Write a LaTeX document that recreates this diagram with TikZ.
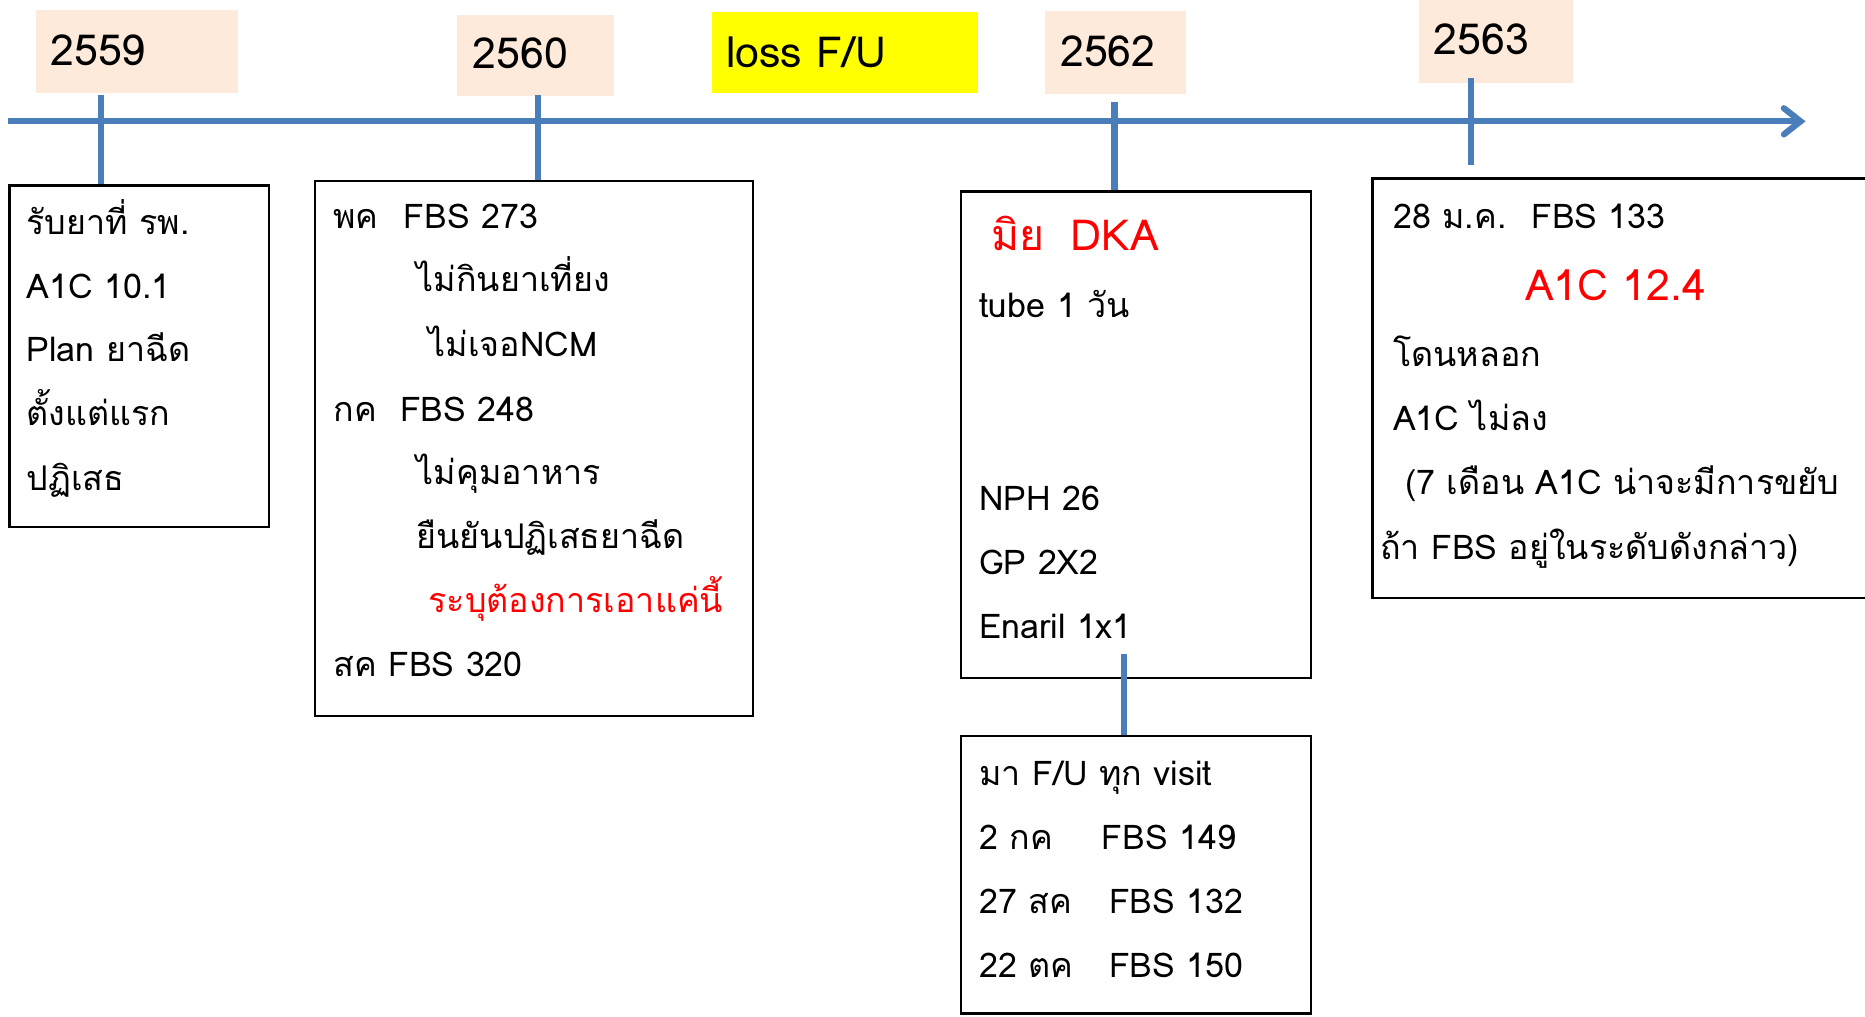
\documentclass[tikz,border=0pt]{standalone}
\usepackage{fontspec}
\setmainfont[Script=Thai]{Loma}
\usetikzlibrary{arrows.meta}
\definecolor{tlblue}{RGB}{74,126,187}
\definecolor{peach}{RGB}{253,234,218}
\definecolor{hiyellow}{RGB}{255,255,0}
\definecolor{alertred}{RGB}{255,0,0}
\begin{document}
\begin{tikzpicture}[x=0.5pt,y=-0.5pt,
  tl/.style={draw=tlblue,line width=2.6pt},
  yearbox/.style={fill=peach,draw=none,inner sep=0pt,anchor=north west},
  textbox/.style={draw=black,line width=1pt,inner sep=0pt,anchor=north west},
  txt/.style={anchor=base west,inner sep=0pt,font=\fontsize{14.3}{17}\selectfont},
  big/.style={anchor=base west,inner sep=0pt,font=\fontsize{18}{21}\selectfont},
  redtxt/.style={text=alertred}
]
\useasboundingbox (0,0) rectangle (1568,855);
\fill[white] (0,0) rectangle (1568,855);

% year labels
\node[yearbox,minimum width=85pt,minimum height=35pt] (y1) at (30,8) {};
\node[yearbox,minimum width=66pt,minimum height=34pt] (y2) at (384,12) {};
\node[yearbox,fill=hiyellow,minimum width=112pt,minimum height=34pt] (y3) at (598,10) {};
\node[yearbox,minimum width=59.5pt,minimum height=35pt] (y4) at (878,9) {};
\node[yearbox,minimum width=64.5pt,minimum height=34.5pt] (y5) at (1193,0) {};
\node[big] (y1t) at (42,55) {2559};
\node[big] (y2t) at (397,58) {2560};
\node[big] (y3t) at (610,57) {loss F/U};
\node[big] (y4t) at (891,56) {2562};
\node[big] (y5t) at (1205,46) {2563};

% boxes
\node[textbox,minimum width=109pt,minimum height=143.5pt] (b1) at (7,155) {};
\node[textbox,minimum width=184pt,minimum height=225pt] (b2) at (264,151) {};
\node[textbox,minimum width=147pt,minimum height=204.5pt] (b3) at (807,160) {};
\node[textbox,minimum width=223.5pt,minimum height=176.5pt] (b4) at (1153,149) {};
\node[textbox,minimum width=147pt,minimum height=116.5pt] (b5) at (807,618) {};

% timeline
\coordinate (ls) at (7,102);
\coordinate (le) at (1518,102);
\draw[tl,-{Straight Barb[length=7pt,width=11pt,line cap=round]}] (ls) -- (le);

% ticks
\coordinate (k1) at (85,80);
\coordinate (k2) at (452,80);
\coordinate (k3) at (937,86);
\coordinate (k4) at (1237,66);
\coordinate (k4e) at (1237,139);
\coordinate (k5) at (945,550);
\draw[tl] (k1) -- (k1 |- b1.north);
\draw[tl] (k2) -- (k2 |- b2.north);
\draw[tl] (k3) -- (k3 |- b3.north);
\draw[tl] (k4) -- (k4e);
\draw[tl] (k5) -- (k5 |- b5.north);

% box 1
\node[txt] (a1) at (22,197) {รับยาที่ รพ.};
\node[txt] (a2) at (22,251) {A1C 10.1};
\node[txt] (a3) at (22,304) {Plan ยาฉีด};
\node[txt] (a4) at (22,358) {ตั้งแต่แรก};
\node[txt] (a5) at (22,412) {ปฏิเสธ};

% box 2
\node[txt] (c1) at (280,192) {พค};
\node[txt] (c1b) at (339,192) {FBS 273};
\node[txt] (c2) at (350,245) {ไม่กินยาเที่ยง};
\node[txt] (c3) at (360,300) {ไม่เจอNCM};
\node[txt] (c4) at (280,354) {กค};
\node[txt] (c4b) at (336,354) {FBS 248};
\node[txt] (c5) at (350,407) {ไม่คุมอาหาร};
\node[txt] (c6) at (350,461) {ยืนยันปฏิเสธยาฉีด};
\node[txt,redtxt] (c7) at (360,515) {ระบุต้องการเอาแค่นี้};
\node[txt] (c8) at (280,569) {สค FBS 320};

% box 3
\node[big,redtxt] (d1) at (833,211) {มิย};
\node[big,redtxt] (d1b) at (900,211) {DKA};
\node[txt] (d2) at (823,267) {tube 1 วัน};
\node[txt] (d3) at (823,429) {NPH 26};
\node[txt] (d4) at (823,483) {GP 2X2};
\node[txt] (d5) at (823,537) {Enaril 1x1};

% box 4
\node[txt] (e1) at (1171,192) {28 ม.ค.};
\node[txt] (e1b) at (1287,192) {FBS 133};
\node[big,redtxt] (e2) at (1282,253) {A1C 12.4};
\node[txt] (e3) at (1171,308) {โดนหลอก};
\node[txt] (e4) at (1171,362) {A1C ไม่ลง};
\node[txt] (e5) at (1181,416) {(7 เดือน A1C น่าจะมีการขยับ};
\node[txt] (e6) at (1160,470) {ถ้า FBS อยู่ในระดับดังกล่าว)};

% box 5
\node[txt] (f1) at (823,660) {มา F/U ทุก visit};
\node[txt] (f2) at (823,714) {2 กค};
\node[txt] (f2b) at (926,714) {FBS 149};
\node[txt] (f3) at (823,768) {27 สค};
\node[txt] (f3b) at (932,768) {FBS 132};
\node[txt] (f4) at (823,822) {22 ตค};
\node[txt] (f4b) at (932,822) {FBS 150};
\end{tikzpicture}
\end{document}
